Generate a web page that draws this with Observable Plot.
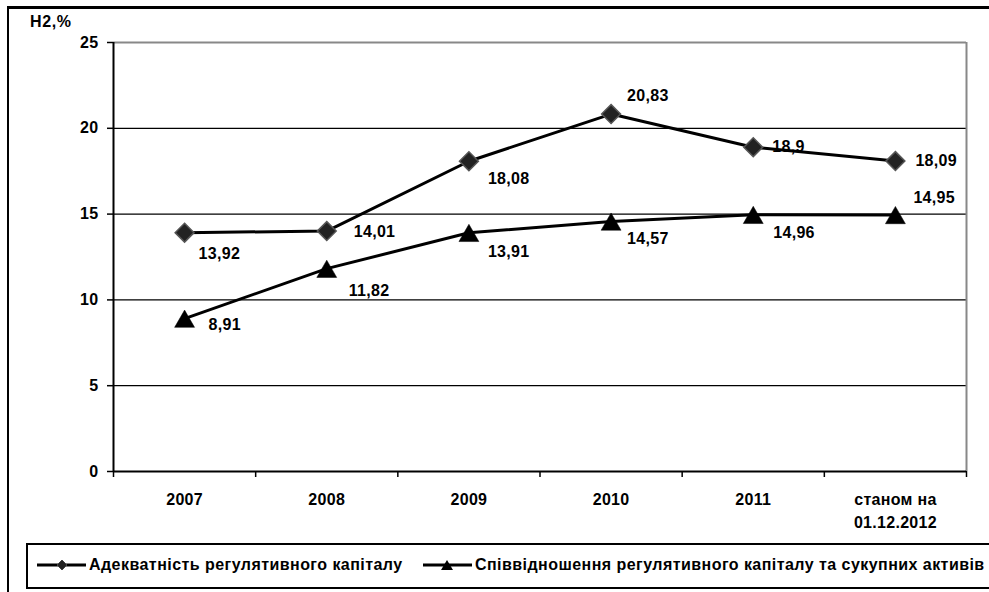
<!DOCTYPE html>
<html><head><meta charset="utf-8">
<script src="https://cdn.jsdelivr.net/npm/d3@7"></script>
<script src="https://cdn.jsdelivr.net/npm/@observablehq/plot@0.6"></script>
<style>
html,body{margin:0;padding:0;background:#fff;}
body{width:989px;height:592px;overflow:hidden;font-family:"Liberation Sans",Arial,sans-serif;}
#wrap{position:relative;width:989px;height:592px;overflow:hidden;}
#frame{position:absolute;left:7px;top:6px;width:1200px;height:800px;border-left:2px solid #000;border-top:3px solid #000;box-sizing:border-box;}
#chart{position:absolute;left:0;top:0;}
#chart svg text{letter-spacing:0.3px;}
#ylabel{position:absolute;left:30px;top:13px;font-weight:bold;font-size:16px;letter-spacing:0.6px;}
#legend{position:absolute;left:26px;top:543px;width:1100px;height:46px;border:2px solid #000;box-sizing:border-box;font-weight:bold;font-size:16px;letter-spacing:0.45px;}
.item{position:absolute;top:11px;display:flex;align-items:center;white-space:nowrap;}
.item svg{margin-right:3px;}
</style></head>
<body>
<div id="wrap">
  <div id="frame"></div>
  <div id="chart"></div>
  <div id="ylabel">Н2,%</div>
  <div id="legend"></div>
</div>
<script>
const categories = ["2007", "2008", "2009", "2010", "2011", "станом на\n01.12.2012"];
const adequacy = [13.92, 14.01, 18.08, 20.83, 18.9, 18.09];
const ratio = [8.91, 11.82, 13.91, 14.57, 14.96, 14.95];
const seriesNames = ["Адекватність регулятивного капіталу", "Співвідношення регулятивного капіталу та сукупних активів"];
const yTicks = [0, 5, 10, 15, 20, 25];

// label placement (dx, dy) in pixels relative to each point
const offsetsA = [[14, 21], [27, 1], [19, 18], [16, -18], [19, 0], [20, 0]];
const offsetsB = [[24, 6], [22, 22], [19, 19], [16, 17], [20, 18], [18, -17]];

const fmt = v => String(v).replace(".", ",");
const rowsA = adequacy.map((v, i) => ({x: i + 0.5, y: v, label: fmt(v)}));
const rowsB = ratio.map((v, i) => ({x: i + 0.5, y: v, label: fmt(v)}));

const labelMarks = [];
rowsA.forEach((r, i) => labelMarks.push(Plot.text([r], {x: "x", y: "y", text: "label", textAnchor: "start", dx: offsetsA[i][0], dy: offsetsA[i][1], fontWeight: "bold", fontSize: 16, fill: "#000"})));
rowsB.forEach((r, i) => labelMarks.push(Plot.text([r], {x: "x", y: "y", text: "label", textAnchor: "start", dx: offsetsB[i][0], dy: offsetsB[i][1], fontWeight: "bold", fontSize: 16, fill: "#000"})));

const chart = Plot.plot({
  width: 989,
  height: 540,
  marginLeft: 113,
  marginRight: 23,
  marginTop: 42,
  marginBottom: 69,
  style: {fontFamily: "'Liberation Sans', Arial, sans-serif", fontSize: "16px", fontWeight: "bold", color: "#000", background: "transparent"},
  x: {domain: [0, 6]},
  y: {domain: [0, 25]},
  marks: [
    Plot.ruleY([5, 10, 15, 20], {stroke: "#000", strokeWidth: 1.3}),
    Plot.ruleY([25], {stroke: "#888", strokeWidth: 2}),
    Plot.ruleX([6], {stroke: "#888", strokeWidth: 2}),
    Plot.ruleX([0], {stroke: "#000", strokeWidth: 2}),
    Plot.ruleY([0], {stroke: "#000", strokeWidth: 2}),
    Plot.axisY({ticks: yTicks, tickSize: 6, tickPadding: 9, label: null, fontSize: 16, fontWeight: "bold", strokeWidth: 1.5}),
    Plot.axisX({ticks: d3.range(7), tickSize: 6, tickFormat: () => "", label: null, strokeWidth: 1.5}),
    Plot.axisX({ticks: categories.map((c, i) => i + 0.5), tickSize: 0, tickPadding: 17, tickFormat: d => categories[Math.round(d - 0.5)], label: null, fontSize: 16, fontWeight: "bold", lineHeight: 1.44}),
    Plot.line(rowsA, {x: "x", y: "y", stroke: "#000", strokeWidth: 3}),
    Plot.line(rowsB, {x: "x", y: "y", stroke: "#000", strokeWidth: 3}),
    Plot.dot(rowsA, {x: "x", y: "y", symbol: "diamond2", r: 8.5, fill: "#222", stroke: "#555", strokeWidth: 1.5}),
    Plot.dot(rowsB, {x: "x", y: "y", symbol: "triangle", r: 7.4, dy: 3, fill: "#000", stroke: "#000", strokeWidth: 0.5}),
    ...labelMarks
  ]
});
document.getElementById("chart").appendChild(chart);

// legend
const legend = document.getElementById("legend");
const items = [
  {left: 9, name: seriesNames[0], marker: '<polygon points="25,0 30,5 25,10 20,5" fill="#222" stroke="#444" stroke-width="1"/>'},
  {left: 395, name: seriesNames[1], marker: '<polygon points="24,0 30,10 18,10" fill="#000"/>'}
];
items.forEach(it => {
  const d = document.createElement("div");
  d.className = "item";
  d.style.left = it.left + "px";
  d.innerHTML = '<svg width="49" height="12" viewBox="0 0 49 12"><line x1="0" y1="6" x2="49" y2="6" stroke="#000" stroke-width="3"/><g transform="translate(0,1)">' + it.marker + '</g></svg>';
  const s = document.createElement("span");
  s.textContent = it.name;
  d.appendChild(s);
  legend.appendChild(d);
});
</script>
</body></html>
